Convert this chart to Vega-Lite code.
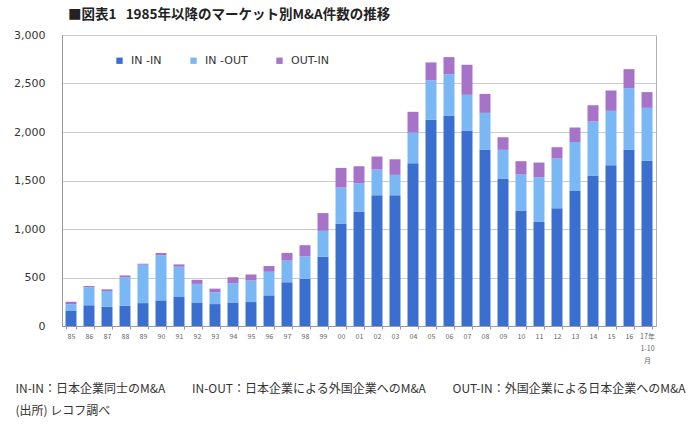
{
  "$schema": "https://vega.github.io/schema/vega-lite/v6.json",
  "autosize": "none",
  "width": 594,
  "height": 291,
  "padding": {"left": 62, "top": 35, "right": 44, "bottom": 105},
  "background": "white",
  "config": {
    "view": {"stroke": "#b0b0b0", "strokeWidth": 1},
    "font": "DejaVu Sans"
  },
  "title": {
    "text": "■図表1\u00a0\u00a0 1985年以降のマーケット別M&A件数の推移",
    "anchor": "start",
    "frame": "group",
    "dx": 6,
    "offset": 8,
    "font": "Noto Sans CJK JP",
    "fontSize": 13.5,
    "fontWeight": "bold",
    "color": "#222222"
  },
  "data": {
    "values": [
      {"year": "85", "type": "IN -IN", "count": 155}, {"year": "85", "type": "IN -OUT", "count": 70}, {"year": "85", "type": "OUT-IN", "count": 25},
      {"year": "86", "type": "IN -IN", "count": 215}, {"year": "86", "type": "IN -OUT", "count": 184}, {"year": "86", "type": "OUT-IN", "count": 14},
      {"year": "87", "type": "IN -IN", "count": 198}, {"year": "87", "type": "IN -OUT", "count": 163}, {"year": "87", "type": "OUT-IN", "count": 17},
      {"year": "88", "type": "IN -IN", "count": 208}, {"year": "88", "type": "IN -OUT", "count": 295}, {"year": "88", "type": "OUT-IN", "count": 18},
      {"year": "89", "type": "IN -IN", "count": 236}, {"year": "89", "type": "IN -OUT", "count": 396}, {"year": "89", "type": "OUT-IN", "count": 10},
      {"year": "90", "type": "IN -IN", "count": 264}, {"year": "90", "type": "IN -OUT", "count": 465}, {"year": "90", "type": "OUT-IN", "count": 24},
      {"year": "91", "type": "IN -IN", "count": 299}, {"year": "91", "type": "IN -OUT", "count": 312}, {"year": "91", "type": "OUT-IN", "count": 24},
      {"year": "92", "type": "IN -IN", "count": 243}, {"year": "92", "type": "IN -OUT", "count": 191}, {"year": "92", "type": "OUT-IN", "count": 42},
      {"year": "93", "type": "IN -IN", "count": 226}, {"year": "93", "type": "IN -OUT", "count": 121}, {"year": "93", "type": "OUT-IN", "count": 38},
      {"year": "94", "type": "IN -IN", "count": 243}, {"year": "94", "type": "IN -OUT", "count": 198}, {"year": "94", "type": "OUT-IN", "count": 62},
      {"year": "95", "type": "IN -IN", "count": 247}, {"year": "95", "type": "IN -OUT", "count": 222}, {"year": "95", "type": "OUT-IN", "count": 62},
      {"year": "96", "type": "IN -IN", "count": 316}, {"year": "96", "type": "IN -OUT", "count": 243}, {"year": "96", "type": "OUT-IN", "count": 59},
      {"year": "97", "type": "IN -IN", "count": 451}, {"year": "97", "type": "IN -OUT", "count": 223}, {"year": "97", "type": "OUT-IN", "count": 79},
      {"year": "98", "type": "IN -IN", "count": 486}, {"year": "98", "type": "IN -OUT", "count": 233}, {"year": "98", "type": "OUT-IN", "count": 114},
      {"year": "99", "type": "IN -IN", "count": 713}, {"year": "99", "type": "IN -OUT", "count": 268}, {"year": "99", "type": "OUT-IN", "count": 183},
      {"year": "00", "type": "IN -IN", "count": 1056}, {"year": "00", "type": "IN -OUT", "count": 371}, {"year": "00", "type": "OUT-IN", "count": 203},
      {"year": "01", "type": "IN -IN", "count": 1180}, {"year": "01", "type": "IN -OUT", "count": 292}, {"year": "01", "type": "OUT-IN", "count": 175},
      {"year": "02", "type": "IN -IN", "count": 1348}, {"year": "02", "type": "IN -OUT", "count": 265}, {"year": "02", "type": "OUT-IN", "count": 134},
      {"year": "03", "type": "IN -IN", "count": 1348}, {"year": "03", "type": "IN -OUT", "count": 210}, {"year": "03", "type": "OUT-IN", "count": 161},
      {"year": "04", "type": "IN -IN", "count": 1678}, {"year": "04", "type": "IN -OUT", "count": 316}, {"year": "04", "type": "OUT-IN", "count": 214},
      {"year": "05", "type": "IN -IN", "count": 2125}, {"year": "05", "type": "IN -OUT", "count": 409}, {"year": "05", "type": "OUT-IN", "count": 183},
      {"year": "06", "type": "IN -IN", "count": 2170}, {"year": "06", "type": "IN -OUT", "count": 426}, {"year": "06", "type": "OUT-IN", "count": 176},
      {"year": "07", "type": "IN -IN", "count": 2012}, {"year": "07", "type": "IN -OUT", "count": 371}, {"year": "07", "type": "OUT-IN", "count": 310},
      {"year": "08", "type": "IN -IN", "count": 1816}, {"year": "08", "type": "IN -OUT", "count": 381}, {"year": "08", "type": "OUT-IN", "count": 196},
      {"year": "09", "type": "IN -IN", "count": 1517}, {"year": "09", "type": "IN -OUT", "count": 299}, {"year": "09", "type": "OUT-IN", "count": 130},
      {"year": "10", "type": "IN -IN", "count": 1186}, {"year": "10", "type": "IN -OUT", "count": 375}, {"year": "10", "type": "OUT-IN", "count": 138},
      {"year": "11", "type": "IN -IN", "count": 1073}, {"year": "11", "type": "IN -OUT", "count": 461}, {"year": "11", "type": "OUT-IN", "count": 151},
      {"year": "12", "type": "IN -IN", "count": 1214}, {"year": "12", "type": "IN -OUT", "count": 512}, {"year": "12", "type": "OUT-IN", "count": 117},
      {"year": "13", "type": "IN -IN", "count": 1393}, {"year": "13", "type": "IN -OUT", "count": 505}, {"year": "13", "type": "OUT-IN", "count": 148},
      {"year": "14", "type": "IN -IN", "count": 1551}, {"year": "14", "type": "IN -OUT", "count": 557}, {"year": "14", "type": "OUT-IN", "count": 168},
      {"year": "15", "type": "IN -IN", "count": 1658}, {"year": "15", "type": "IN -OUT", "count": 560}, {"year": "15", "type": "OUT-IN", "count": 210},
      {"year": "16", "type": "IN -IN", "count": 1816}, {"year": "16", "type": "IN -OUT", "count": 636}, {"year": "16", "type": "OUT-IN", "count": 196},
      {"year": "17年|1-10|月", "type": "IN -IN", "count": 1702}, {"year": "17年|1-10|月", "type": "IN -OUT", "count": 547}, {"year": "17年|1-10|月", "type": "OUT-IN", "count": 162}
    ]
  },
  "mark": {"type": "bar"},
  "encoding": {
    "x": {
      "field": "year",
      "type": "nominal",
      "sort": null,
      "scale": {"paddingInner": 0.39, "paddingOuter": 0.195},
      "axis": {
        "labelAngle": 0,
        "labelFont": "Noto Sans CJK JP",
        "labelFontSize": 7,
        "labelColor": "#666666",
        "labelPadding": 3,
        "labelLineHeight": 12,
        "labelBaseline": "top",
        "labelExpr": "split(datum.label, '|')",
        "domainColor": "#999999",
        "ticks": true,
        "tickBand": "extent",
        "tickSize": 3,
        "tickColor": "#999999",
        "title": [
          "IN-IN：日本企業同士のM&A\u3000\u3000 IN-OUT：日本企業による外国企業へのM&A\u3000\u3000 OUT-IN：外国企業による日本企業へのM&A",
          "(出所) レコフ調べ"
        ],
        "titleFont": "Noto Sans CJK JP",
        "titleFontSize": 12,
        "titleFontWeight": "normal",
        "titleColor": "#333333",
        "titleAnchor": "start",
        "titleAlign": "left",
        "titleX": -47,
        "titleY": 62,
        "titleLineHeight": 22,
        "titleBaseline": "middle"
      }
    },
    "y": {
      "field": "count",
      "type": "quantitative",
      "stack": "zero",
      "scale": {"domain": [0, 3000], "nice": false},
      "axis": {
        "values": [0, 500, 1000, 1500, 2000, 2500, 3000],
        "format": ",.0f",
        "title": null,
        "ticks": false,
        "labelPadding": 17,
        "labelFontSize": 11,
        "labelColor": "#333333",
        "domainColor": "#999999",
        "gridColor": "#cccccc"
      }
    },
    "order": {"field": "type", "sort": "ascending"},
    "color": {
      "field": "type",
      "type": "nominal",
      "scale": {
        "domain": ["IN -IN", "IN -OUT", "OUT-IN"],
        "range": ["#3a6fd0", "#7ab8f5", "#a673c8"]
      },
      "legend": {
        "title": null,
        "orient": "none",
        "legendX": 52,
        "legendY": 20,
        "direction": "horizontal",
        "columns": 3,
        "symbolType": "square",
        "symbolSize": 40,
        "symbolStrokeWidth": 0,
        "labelFontSize": 11,
        "labelColor": "#333333",
        "columnPadding": 26,
        "labelOffset": 6
      }
    }
  }
}
